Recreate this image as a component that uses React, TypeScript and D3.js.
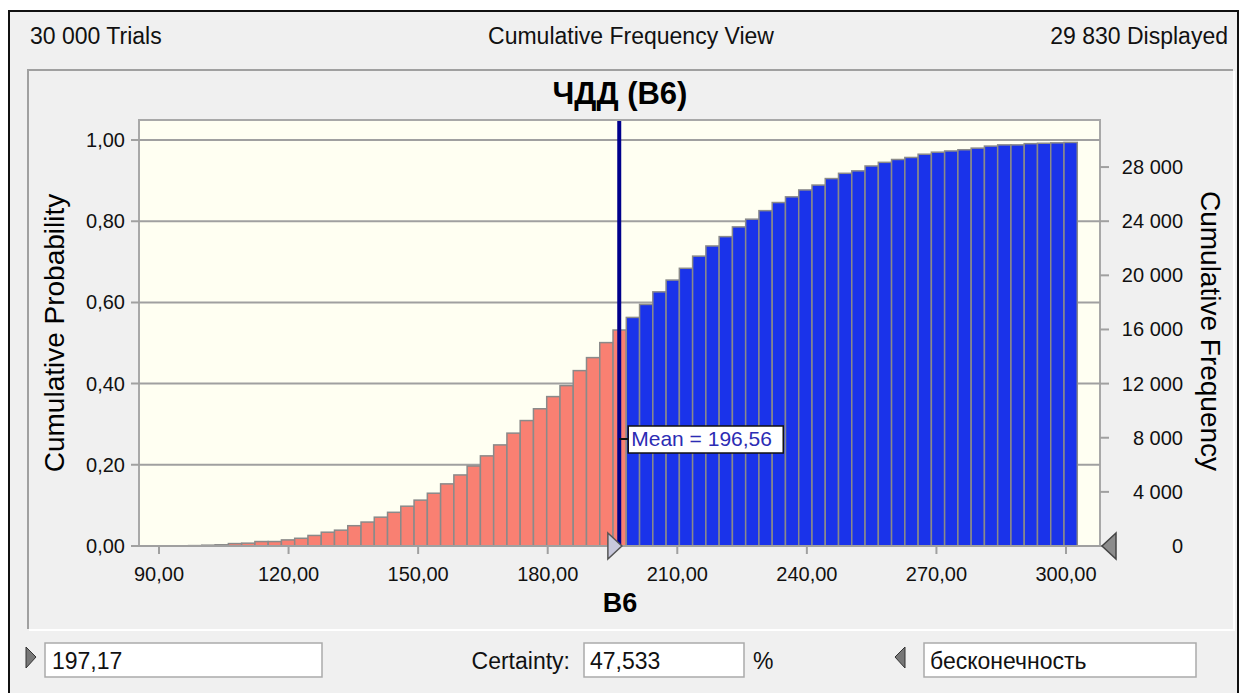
import React, { useRef, useEffect } from 'react';
import * as d3 from 'd3';

// values
const cumProb = [
  0.001, 0.002, 0.003, 0.006, 0.007, 0.011, 0.011, 0.015, 0.019, 0.026,
  0.034, 0.039, 0.050, 0.059, 0.071, 0.083, 0.098, 0.113, 0.130, 0.153,
  0.175, 0.197, 0.222, 0.249, 0.278, 0.309, 0.338, 0.368, 0.395, 0.432,
  0.464, 0.501, 0.532, 0.563, 0.595, 0.626, 0.655, 0.684, 0.714, 0.739,
  0.762, 0.786, 0.805, 0.826, 0.846, 0.860, 0.877, 0.889, 0.905, 0.918,
  0.924, 0.936, 0.945, 0.952, 0.957, 0.965, 0.970, 0.973, 0.976, 0.980,
  0.985, 0.988, 0.988, 0.991, 0.992, 0.993, 0.994,
];
const binStart = 96.85;
const binWidth = 3.071;
const totalTrials = 30000;
const displayedTrials = 29830;
const meanValue = 196.56;
const certaintyLow = 197.17;
const certaintyPct = 47.533;
const xTicks = [90, 120, 150, 180, 210, 240, 270, 300];
const probTicks = [0, 0.2, 0.4, 0.6, 0.8, 1.0];
const freqTicks = [0, 4000, 8000, 12000, 16000, 20000, 24000, 28000];
const chartTitle = 'ЧДД (B6)';
const xTitle = 'B6';

// layout
const width = 1241;
const height = 693;
const plot = { left: 139, right: 1100, top: 120, bottom: 546 };
const font = 'Liberation Sans, Arial, sans-serif';

const ru = d3.formatLocale({ decimal: ',', thousands: ' ', grouping: [3], currency: ['', ''] });
const fmt2 = ru.format('.2f');
const fmtInt = ru.format(',d');

const App = () => {
  const svgRef = useRef<SVGSVGElement>(null);

  const xScale = d3.scaleLinear().domain([85.37, 307.87]).range([plot.left, plot.right]);
  const yScale = d3.scaleLinear().domain([0, 1]).range([plot.bottom, 140]);
  const freqScale = d3.scaleLinear().domain([0, totalTrials]).range([plot.bottom, 140]);

  useEffect(() => {
    const svg = d3.select(svgRef.current);
    svg.selectAll('*').remove();

    // window frame
    svg.append('rect').attr('width', width).attr('height', height).attr('fill', '#fff');
    svg.append('rect')
      .attr('x', 9).attr('y', 11).attr('width', 1229).attr('height', 700)
      .attr('fill', '#f0f0f0').attr('stroke', '#111').attr('stroke-width', 2);

    // header
    const header = svg.append('g').attr('font-family', font).attr('font-size', 23).attr('fill', '#111');
    header.append('text').attr('x', 30).attr('y', 44).text(`${fmtInt(totalTrials)} Trials`);
    header.append('text').attr('x', 631).attr('y', 44).attr('text-anchor', 'middle').text('Cumulative Frequency View');
    header.append('text').attr('x', 1228).attr('y', 44).attr('text-anchor', 'end').text(`${fmtInt(displayedTrials)} Displayed`);

    // inner etched panel
    svg.append('path').attr('d', 'M28,629 V70 H1233').attr('fill', 'none').attr('stroke', '#a0a0a0').attr('stroke-width', 2);
    svg.append('path').attr('d', 'M29,630 H1234 V71').attr('fill', 'none').attr('stroke', '#ffffff').attr('stroke-width', 2);

    // plot background
    svg.append('rect')
      .attr('x', plot.left).attr('y', plot.top)
      .attr('width', plot.right - plot.left).attr('height', plot.bottom - plot.top)
      .attr('fill', '#fffff2').attr('stroke', '#a8a8a8').attr('stroke-width', 2);

    // grid + left ticks
    svg.append('g').selectAll('line').data(probTicks).join('line')
      .attr('x1', plot.left - 8).attr('x2', plot.right)
      .attr('y1', d => yScale(d)).attr('y2', d => yScale(d))
      .attr('stroke', '#a0a0a0').attr('stroke-width', 2);

    // bars
    const bins = cumProb.map((p, i) => ({ x0: binStart + i * binWidth, x1: binStart + (i + 1) * binWidth, p }));
    svg.append('g').selectAll('rect').data(bins).join('rect')
      .attr('x', d => xScale(d.x0))
      .attr('width', d => xScale(d.x1) - xScale(d.x0))
      .attr('y', d => yScale(d.p))
      .attr('height', d => plot.bottom - yScale(d.p))
      .attr('fill', d => (d.x0 < certaintyLow ? '#f98072' : '#1a33ea'))
      .attr('stroke', '#8a8a8a').attr('stroke-width', 1.5);

    // baseline
    svg.append('line').attr('x1', plot.left).attr('x2', plot.right)
      .attr('y1', plot.bottom).attr('y2', plot.bottom)
      .attr('stroke', '#a0a0a0').attr('stroke-width', 2);

    // left axis labels
    svg.append('g').selectAll('text').data(probTicks).join('text')
      .attr('x', 125).attr('y', d => yScale(d)).attr('dy', '0.35em')
      .attr('text-anchor', 'end').attr('font-family', font).attr('font-size', 20).attr('fill', '#111')
      .text(d => fmt2(d));

    // x axis
    const xg = svg.append('g');
    xg.selectAll('line').data(xTicks).join('line')
      .attr('x1', d => xScale(d)).attr('x2', d => xScale(d))
      .attr('y1', plot.bottom).attr('y2', plot.bottom + 8)
      .attr('stroke', '#a0a0a0').attr('stroke-width', 2);
    xg.selectAll('text').data(xTicks).join('text')
      .attr('x', d => xScale(d)).attr('y', 581)
      .attr('text-anchor', 'middle').attr('font-family', font).attr('font-size', 20).attr('fill', '#111')
      .text(d => fmt2(d));

    // right axis
    const rg = svg.append('g');
    rg.selectAll('line').data(freqTicks).join('line')
      .attr('x1', plot.right).attr('x2', plot.right + 9)
      .attr('y1', d => freqScale(d)).attr('y2', d => freqScale(d))
      .attr('stroke', '#a0a0a0').attr('stroke-width', 2);
    rg.selectAll('text').data(freqTicks).join('text')
      .attr('x', 1183).attr('y', d => freqScale(d)).attr('dy', '0.35em')
      .attr('text-anchor', 'end').attr('font-family', font).attr('font-size', 20).attr('fill', '#111')
      .text(d => fmtInt(d));

    // titles
    svg.append('text').attr('x', 620).attr('y', 104).attr('text-anchor', 'middle')
      .attr('font-family', font).attr('font-weight', 'bold').attr('font-size', 31).attr('fill', '#000')
      .text(chartTitle);
    svg.append('text').attr('x', 620).attr('y', 612).attr('text-anchor', 'middle')
      .attr('font-family', font).attr('font-weight', 'bold').attr('font-size', 27).attr('fill', '#000')
      .text(xTitle);
    svg.append('text').attr('transform', 'translate(64,333) rotate(-90)').attr('text-anchor', 'middle')
      .attr('font-family', font).attr('font-size', 28).attr('fill', '#000')
      .text('Cumulative Probability');
    svg.append('text').attr('transform', 'translate(1201,331) rotate(90)').attr('text-anchor', 'middle')
      .attr('font-family', font).attr('font-size', 28).attr('fill', '#000')
      .text('Cumulative Frequency');

    // mean line + label
    const mx = xScale(meanValue);
    svg.append('line').attr('x1', mx).attr('x2', mx).attr('y1', plot.top + 1).attr('y2', plot.bottom)
      .attr('stroke', '#00008c').attr('stroke-width', 4);
    svg.append('line').attr('x1', mx).attr('x2', mx + 9).attr('y1', 439).attr('y2', 439)
      .attr('stroke', '#111').attr('stroke-width', 2);
    svg.append('rect').attr('x', mx + 9).attr('y', 426).attr('width', 155).attr('height', 27)
      .attr('fill', '#fff').attr('stroke', '#111').attr('stroke-width', 1.5);
    svg.append('text').attr('x', mx + 12).attr('y', 446)
      .attr('font-family', font).attr('font-size', 21).attr('fill', '#2c2cb4')
      .text(`Mean = ${fmt2(meanValue)}`);

    // certainty grabbers on the axis
    const cx = xScale(certaintyLow);
    svg.append('path').attr('d', `M${cx - 14},533 L${cx},546 L${cx - 14},559 Z`)
      .attr('fill', '#c8c8dc').attr('stroke', '#555').attr('stroke-width', 1.5);
    svg.append('path').attr('d', `M${plot.right + 16},533 L${plot.right + 2},546 L${plot.right + 16},559 Z`)
      .attr('fill', '#8c8c8c').attr('stroke', '#444').attr('stroke-width', 1.5);

    // bottom controls
    const ctl = svg.append('g').attr('font-family', font).attr('font-size', 23).attr('fill', '#111');
    ctl.append('path').attr('d', 'M26,647 L36,657 L26,668 Z').attr('fill', '#777').attr('stroke', '#333').attr('stroke-width', 1);
    ctl.append('rect').attr('x', 45).attr('y', 643).attr('width', 277).attr('height', 34)
      .attr('fill', '#fff').attr('stroke', '#aaa').attr('stroke-width', 1.5);
    ctl.append('text').attr('x', 52).attr('y', 669).text(fmt2(certaintyLow));
    ctl.append('text').attr('x', 570).attr('y', 669).attr('text-anchor', 'end').text('Certainty:');
    ctl.append('rect').attr('x', 584).attr('y', 643).attr('width', 160).attr('height', 34)
      .attr('fill', '#fff').attr('stroke', '#aaa').attr('stroke-width', 1.5);
    ctl.append('text').attr('x', 590).attr('y', 669).text(ru.format('.3f')(certaintyPct));
    ctl.append('text').attr('x', 753).attr('y', 669).text('%');
    ctl.append('path').attr('d', 'M905,647 L895,657 L905,668 Z').attr('fill', '#777').attr('stroke', '#333').attr('stroke-width', 1);
    ctl.append('rect').attr('x', 924).attr('y', 643).attr('width', 272).attr('height', 34)
      .attr('fill', '#fff').attr('stroke', '#aaa').attr('stroke-width', 1.5);
    ctl.append('text').attr('x', 930).attr('y', 669).text('бесконечность');
  }, []);

  return (
    <svg ref={svgRef} width={width} height={height}
      style={{ position: 'absolute', left: 0, top: 0, display: 'block' }} />
  );
};

export default App;
